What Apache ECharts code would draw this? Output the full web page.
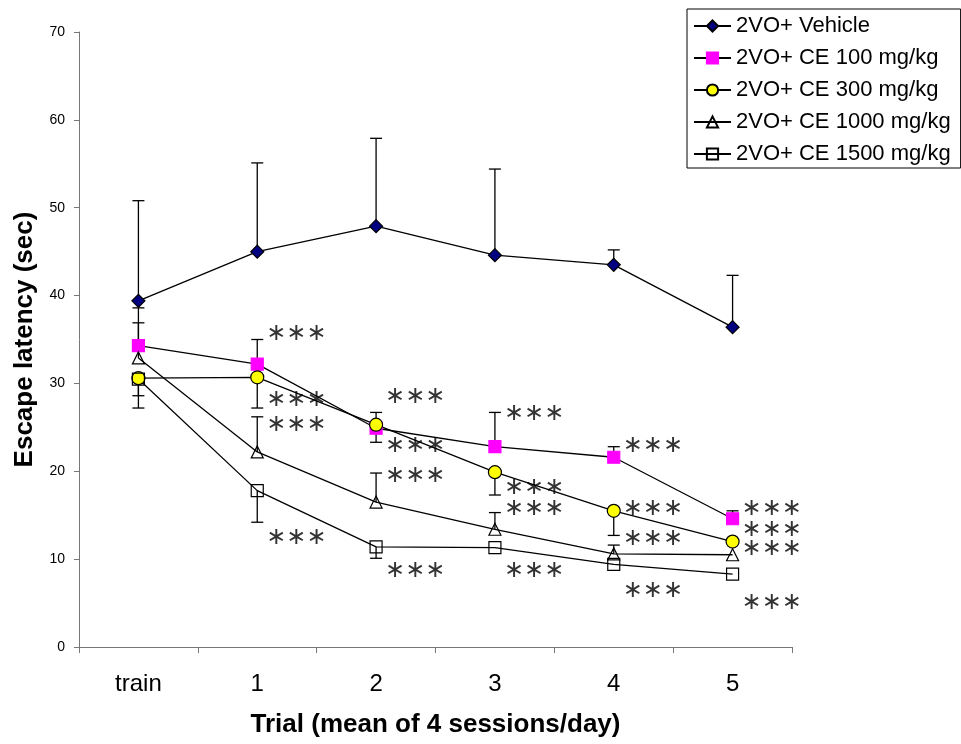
<!DOCTYPE html>
<html><head><meta charset="utf-8">
<script src="https://cdn.jsdelivr.net/npm/echarts@6/dist/echarts.min.js"></script>
<style>html,body{margin:0;padding:0;background:#fff}#c{width:961px;height:744px}</style>
</head><body><div id="c"></div>
<script>
const categories = ['train', '1', '2', '3', '4', '5'];
const yTicks = [0, 10, 20, 30, 40, 50, 60, 70];
const seriesNames = ['2VO+ Vehicle', '2VO+ CE 100 mg/kg', '2VO+ CE 300 mg/kg', '2VO+ CE 1000 mg/kg', '2VO+ CE 1500 mg/kg'];
const vehicle = [39.4, 45.0, 47.9, 44.6, 43.5, 36.4];
const vehicleErr = [50.8, 55.1, 57.9, 54.4, 45.2, 42.3];
const ce100 = [34.3, 32.2, 24.9, 22.8, 21.6, 14.6];
const ce100Err = [38.6, 35.0, 26.7, 26.7, 22.8, 15.5];
const ce300 = [30.6, 30.7, 25.3, 19.9, 15.5, 12.0];
const ce300Err = [28.6, 27.2, 23.3, 17.3, 12.7, null];
const ce1000 = [32.9, 22.2, 16.5, 13.4, 10.6, 10.5];
const ce1000Err = [36.9, 26.2, 19.8, 15.3, 11.6, null];
const ce1500 = [30.5, 17.8, 11.4, 11.3, 9.4, 8.3];
const ce1500Err = [27.2, 14.2, 10.1, null, null, null];
const annotCats = [1, 1, 1, 1, 2, 2, 2, 2, 3, 3, 3, 3, 4, 4, 4, 4, 5, 5, 5, 5];
const annotYs = [35.7, 28.1, 25.3, 12.4, 28.5, 22.9, 19.5, 8.7, 26.6, 18.1, 15.7, 8.7, 22.9, 15.7, 12.3, 6.4, 15.7, 13.4, 11.2, 5.0];
const annotText = '∗∗∗';

const means = [vehicle, ce100, ce300, ce1000, ce1500];
const errs = [vehicleErr, ce100Err, ce300Err, ce1000Err, ce1500Err];

const styles = [
  {symbol: 'diamond', size: 13, color: '#000080', border: '#000'},
  {symbol: 'rect', size: 12, color: '#FF00FF', border: '#FF00FF'},
  {symbol: 'circle', size: 13, color: '#FFFF00', border: '#000'},
  {symbol: 'triangle', size: 12, color: 'rgba(255,255,255,0)', border: '#000'},
  {symbol: 'rect', size: 12, color: 'rgba(255,255,255,0)', border: '#000'}
];

const errData = [];
means.forEach((m, s) => m.forEach((v, i) => {
  if (errs[s][i] != null) errData.push([i, v, errs[s][i]]);
}));

const series = means.map((m, s) => ({
  name: seriesNames[s],
  type: 'line',
  data: m,
  symbol: styles[s].symbol,
  symbolSize: styles[s].size,
  z: 3,
  lineStyle: {color: '#000', width: 1.3},
  itemStyle: {color: styles[s].color, borderColor: styles[s].border, borderWidth: 1.2},
  emphasis: {disabled: true}
}));

series.push({
  type: 'custom',
  z: 2,
  data: errData,
  renderItem: function (params, api) {
    const p0 = api.coord([api.value(0), api.value(1)]);
    const p1 = api.coord([api.value(0), api.value(2)]);
    const st = {stroke: '#000', lineWidth: 1.3};
    return {type: 'group', children: [
      {type: 'line', shape: {x1: p0[0], y1: p0[1], x2: p1[0], y2: p1[1]}, style: st},
      {type: 'line', shape: {x1: p1[0] - 6, y1: p1[1], x2: p1[0] + 6, y2: p1[1]}, style: st}
    ]};
  }
});

series.push({
  type: 'scatter',
  symbolSize: 0,
  z: 4,
  data: annotCats.map((c, i) => [c, annotYs[i]]),
  label: {show: true, position: 'right', distance: 9, formatter: annotText,
    fontFamily: 'DejaVu Sans', fontSize: 24, color: '#000'},
  emphasis: {disabled: true}
});

const chart = echarts.init(document.getElementById('c'));
chart.setOption({
  animation: false,
  backgroundColor: '#fff',
  grid: {left: 79, right: 169, top: 32, bottom: 97},
  legend: {
    data: seriesNames,
    orient: 'vertical',
    left: 687, top: 9,
    padding: [6, 10, 3, 6],
    itemWidth: 37, itemHeight: 14, itemGap: 10,
    borderColor: '#000', borderWidth: 1,
    textStyle: {fontFamily: 'Liberation Sans', fontSize: 22, color: '#000', lineHeight: 22}
  },
  xAxis: {
    type: 'category',
    data: categories,
    boundaryGap: true,
    axisLine: {lineStyle: {color: '#777', width: 1}},
    axisTick: {show: true, length: 6, lineStyle: {color: '#777'}},
    axisLabel: {fontFamily: 'Liberation Sans', fontSize: 24, color: '#000', margin: 25},
    name: 'Trial (mean of 4 sessions/day)',
    nameLocation: 'middle',
    nameGap: 65,
    nameTextStyle: {fontFamily: 'Liberation Sans', fontSize: 26, fontWeight: 'bold', color: '#000'}
  },
  yAxis: {
    type: 'value',
    min: yTicks[0], max: yTicks[yTicks.length - 1], interval: 10,
    splitLine: {show: false},
    axisLine: {show: true, lineStyle: {color: '#777', width: 1}},
    axisTick: {show: true, length: 5, lineStyle: {color: '#777'}},
    axisLabel: {fontFamily: 'Liberation Sans', fontSize: 14, color: '#000', margin: 14},
    name: 'Escape latency (sec)',
    nameLocation: 'middle',
    nameGap: 41,
    nameTextStyle: {fontFamily: 'Liberation Sans', fontSize: 26, fontWeight: 'bold', color: '#000'}
  },
  series: series
});
</script></body></html>
